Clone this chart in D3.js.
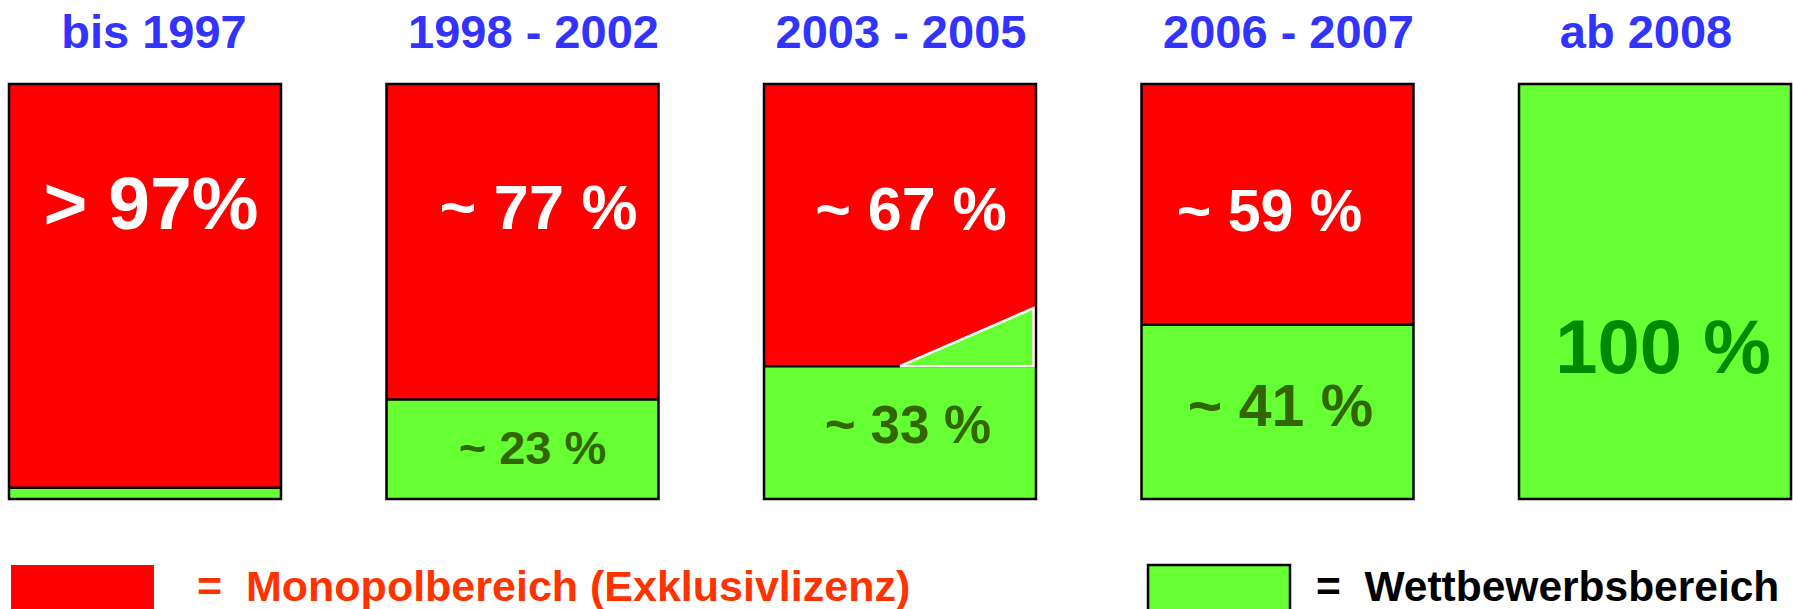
<!DOCTYPE html>
<html>
<head>
<meta charset="utf-8">
<script src="https://cdn.jsdelivr.net/npm/d3@7"></script>
<style>
  body { margin: 0; background: #fff; }
  svg { display: block; font-family: "Liberation Sans", Arial, sans-serif; font-weight: bold; }
</style>
</head>
<body>
<svg id="chart" width="1793" height="609"></svg>
<script>
// periods and shares (in %)
var periods     = ['bis 1997', '1998 - 2002', '2003 - 2005', '2006 - 2007', 'ab 2008'];
var monopol     = [97.3, 76, 68, 58, 0];
var wettbewerb  = [2.7, 24, 32, 42, 100];
var monopolText = ['> 97%', '~ 77 %', '~ 67 %', '~ 59 %', ''];
var wettbText   = ['', '~ 23 %', '~ 33 %', '~ 41 %', '100 %'];
// growing share inside 2003 - 2005 (triangle)
var trend = { period: '2003 - 2005', from: 32, to: 46 };
var legendItems = ['=  Monopolbereich (Exklusivlizenz)', '=  Wettbewerbsbereich'];

// layout tweaks for the labels, by index
var titleDx   = [9, 11, 1, 11, -9];
var redDx     = [6, 16, 11, -8, 0];
var redAt     = [65, 65, 64.8, 64.5, 0];
var redSize   = [75, 63, 61, 59, 0];
var greenDx   = [0, 10, 8, 3, 8];
var greenAt   = [0, 8.4, 13.5, 17.6, 30.4];
var greenSize = [0, 47, 53, 59, 76];

var RED = '#ff0000', GREEN = '#66ff33';

var svg = d3.select('#chart');

var x = d3.scaleBand().domain(periods).range([9, 1791]).paddingInner(0.2795).paddingOuter(0);
var y = d3.scaleLinear().domain([0, 100]).range([499, 84]);
var bw = x.bandwidth();

var rows = periods.map(function(p, i) {
  return { period: p, i: i, red: monopol[i], green: wettbewerb[i] };
});

// titles
svg.selectAll('.title').data(rows).enter()
  .append('text').classed('title', true)
    .attr('x', function(d) { return x(d.period) + bw / 2 + titleDx[d.i]; })
    .attr('y', 47.5)
    .attr('text-anchor', 'middle')
    .attr('font-size', 47)
    .attr('fill', '#3333ff')
    .text(function(d) { return d.period; })
;

var bars = svg.selectAll('.bar').data(rows).enter()
  .append('g').classed('bar', true);

bars.append('rect')
  .attr('x', function(d) { return x(d.period); })
  .attr('y', y(100))
  .attr('width', bw)
  .attr('height', function(d) { return y(0) - y(d.red); })
  .attr('fill', RED);

bars.append('rect')
  .attr('x', function(d) { return x(d.period); })
  .attr('y', function(d) { return y(d.green); })
  .attr('width', bw)
  .attr('height', function(d) { return y(0) - y(d.green); })
  .attr('fill', GREEN);

// divider between red and green
bars.filter(function(d) { return d.red > 0 && d.green > 0; })
  .append('line')
    .attr('x1', function(d) { return x(d.period); })
    .attr('x2', function(d) { return x(d.period) + bw; })
    .attr('y1', function(d) { return y(d.green); })
    .attr('y2', function(d) { return y(d.green); })
    .attr('stroke', '#000')
    .attr('stroke-width', 2.5);

// trend triangle
var tx = x(trend.period);
svg.append('path')
  .attr('d', d3.line()([
    [tx + bw * 0.5, y(trend.from)],
    [tx + bw - 2.5, y(trend.to)],
    [tx + bw - 2.5, y(trend.from)]
  ]) + 'Z')
  .attr('fill', GREEN)
  .attr('stroke', '#fff')
  .attr('stroke-width', 2.5)
  .attr('stroke-linejoin', 'miter');

// outlines
bars.append('rect')
  .attr('x', function(d) { return x(d.period); })
  .attr('y', y(100))
  .attr('width', bw)
  .attr('height', y(0) - y(100))
  .attr('fill', 'none')
  .attr('stroke', '#000')
  .attr('stroke-width', 2.5);

// value labels
bars.filter(function(d) { return monopolText[d.i]; })
  .append('text')
    .attr('x', function(d) { return x(d.period) + bw / 2 + redDx[d.i]; })
    .attr('y', function(d) { return y(redAt[d.i]); })
    .attr('text-anchor', 'middle')
    .attr('font-size', function(d) { return redSize[d.i]; })
    .attr('fill', '#fff')
    .text(function(d) { return monopolText[d.i]; });

bars.filter(function(d) { return wettbText[d.i]; })
  .append('text')
    .attr('x', function(d) { return x(d.period) + bw / 2 + greenDx[d.i]; })
    .attr('y', function(d) { return y(greenAt[d.i]); })
    .attr('text-anchor', 'middle')
    .attr('font-size', function(d) { return greenSize[d.i]; })
    .attr('fill', function(d) { return d.green === 100 ? '#008800' : '#336600'; })
    .text(function(d) { return wettbText[d.i]; });

// legend
var legend = svg.append('g').classed('legend', true);

legend.append('rect')
  .attr('x', 11).attr('y', 565).attr('width', 143).attr('height', 50)
  .attr('fill', RED);
legend.append('text')
  .attr('x', 197).attr('y', 601)
  .attr('font-size', 43)
  .attr('fill', '#ff3300')
  .style('white-space', 'pre')
  .text(legendItems[0]);

legend.append('rect')
  .attr('x', 1148).attr('y', 565).attr('width', 142).attr('height', 50)
  .attr('fill', GREEN)
  .attr('stroke', '#000')
  .attr('stroke-width', 2.5);
legend.append('text')
  .attr('x', 1316).attr('y', 601)
  .attr('font-size', 42.5)
  .attr('fill', '#000')
  .style('white-space', 'pre')
  .text(legendItems[1]);
</script>
</body>
</html>
